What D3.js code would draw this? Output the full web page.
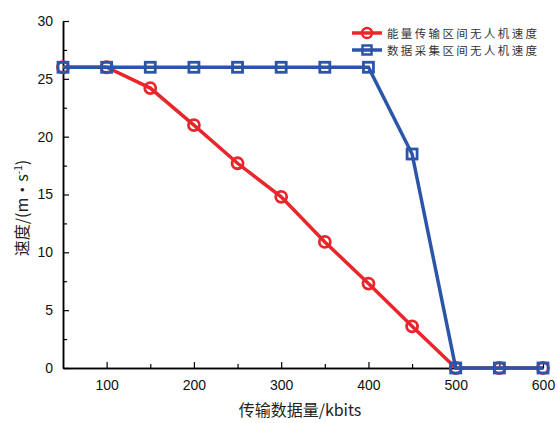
<!DOCTYPE html>
<html>
<head>
<meta charset="utf-8">
<script src="https://cdn.jsdelivr.net/npm/d3@7"></script>
<style>
  html, body { margin: 0; padding: 0; background: #fff; }
  svg { display: block; }
</style>
</head>
<body>
<svg id="chart" width="557" height="423"></svg>
<script>
// Data: transmission amount (kbits) vs UAV speed (m/s)
const dataSizes = [50, 100, 150, 200, 250, 300, 350, 400, 450, 500, 550, 600];
const energySpeed = [26, 26, 24.2, 21, 17.7, 14.8, 10.9, 7.3, 3.6, 0, 0, 0];
const collectSpeed = [26, 26, 26, 26, 26, 26, 26, 26, 18.5, 0, 0, 0];
const xTicks = [100, 200, 300, 400, 500, 600];
const yTicks = [0, 5, 10, 15, 20, 25, 30];
const seriesNames = ["能量传输区间无人机速度", "数据采集区间无人机速度"];
const seriesColors = ["#e8262b", "#2b55a8"];

const svg = d3.select("#chart");
const plotLeft = 63, plotRight = 543, plotTop = 21, plotBottom = 368;

const x = d3.scaleLinear().domain([50, 600]).range([plotLeft, plotRight]);
const y = d3.scaleLinear().domain([0, 30]).range([plotBottom, plotTop]);

const tickFont = "Liberation Sans, Arial, sans-serif";

// Axes with inward ticks
const xAxis = d3.axisBottom(x).tickValues(xTicks).tickSize(-6).tickPadding(12).tickSizeOuter(0);
const xMinor = d3.axisBottom(x).tickValues([150, 250, 350, 450, 550]).tickSize(-4).tickFormat("").tickSizeOuter(0);
const yAxis = d3.axisLeft(y).tickValues(yTicks).tickSize(-6).tickPadding(10).tickSizeOuter(0);
const yMinor = d3.axisLeft(y).tickValues([2.5, 7.5, 12.5, 17.5, 22.5, 27.5]).tickSize(-4).tickFormat("").tickSizeOuter(0);

function styleAxis(g) {
  g.selectAll("path").attr("stroke", "#000").attr("stroke-width", 1.5);
  g.selectAll("line").attr("stroke", "#000").attr("stroke-width", 1.2);
  g.selectAll("text").attr("font-family", tickFont).attr("font-size", 14).attr("fill", "#111");
}

svg.append("g").attr("transform", `translate(0,${plotBottom})`).call(xMinor).call(styleAxis);
svg.append("g").attr("transform", `translate(0,${plotBottom})`).call(xAxis).call(styleAxis);
svg.append("g").attr("transform", `translate(${plotLeft},0)`).call(yMinor).call(styleAxis);
svg.append("g").attr("transform", `translate(${plotLeft},0)`).call(yAxis).call(styleAxis);

// Axis titles
svg.append("text")
  .attr("x", 300).attr("y", 416)
  .attr("text-anchor", "middle")
  .attr("font-family", "Noto Sans CJK SC, sans-serif")
  .attr("font-size", 16).attr("fill", "#222")
  .text("传输数据量/kbits");

const yTitle = svg.append("text")
  .attr("transform", "translate(28,208) rotate(-90)")
  .attr("text-anchor", "middle")
  .attr("font-family", "Noto Sans CJK SC, sans-serif")
  .attr("font-size", 16).attr("fill", "#222");
yTitle.append("tspan").text("速度/(m・s");
yTitle.append("tspan").attr("dy", -6).attr("font-size", 10).text("-1");
yTitle.append("tspan").attr("dy", 6).text(")");

const line = d3.line().x(d => x(d[0])).y(d => y(d[1]));
const plot = svg.append("g");

// Energy transfer series (red, circles)
const redPts = dataSizes.map((d, i) => [d, energySpeed[i]]);
plot.append("path").datum(redPts)
  .attr("d", line).attr("fill", "none")
  .attr("stroke", seriesColors[0]).attr("stroke-width", 3.5);
plot.selectAll(".rc").data(redPts).enter().append("circle")
  .attr("cx", d => x(d[0])).attr("cy", d => y(d[1])).attr("r", 5.5)
  .attr("fill", "none").attr("stroke", seriesColors[0]).attr("stroke-width", 2.8);

// Data collection series (blue, squares)
const bluePts = dataSizes.map((d, i) => [d, collectSpeed[i]]);
plot.append("path").datum(bluePts)
  .attr("d", line).attr("fill", "none")
  .attr("stroke", seriesColors[1]).attr("stroke-width", 3.5);
plot.selectAll(".bs").data(bluePts).enter().append("rect")
  .attr("x", d => x(d[0]) - 5).attr("y", d => y(d[1]) - 5)
  .attr("width", 10).attr("height", 10)
  .attr("fill", "none").attr("stroke", seriesColors[1]).attr("stroke-width", 2.8);

// Legend
const legend = svg.append("g").attr("transform", "translate(352,33)");
seriesNames.forEach((name, i) => {
  const g = legend.append("g").attr("transform", `translate(0,${i * 17})`);
  g.append("line").attr("x1", 0).attr("x2", 30).attr("y1", 0).attr("y2", 0)
    .attr("stroke", seriesColors[i]).attr("stroke-width", 3.5);
  if (i === 0) {
    g.append("circle").attr("cx", 15).attr("cy", 0).attr("r", 5)
      .attr("fill", "none").attr("stroke", seriesColors[i]).attr("stroke-width", 2.5);
  } else {
    g.append("rect").attr("x", 10.5).attr("y", -4.5).attr("width", 9).attr("height", 9)
      .attr("fill", "none").attr("stroke", seriesColors[i]).attr("stroke-width", 2.5);
  }
  g.append("text").attr("x", 35).attr("y", 4.5)
    .attr("font-family", "Noto Sans CJK SC, sans-serif")
    .attr("font-size", 11.5).attr("fill", "#333")
    .attr("textLength", 150).attr("lengthAdjust", "spacing")
    .text(name);
});
</script>
</body>
</html>
